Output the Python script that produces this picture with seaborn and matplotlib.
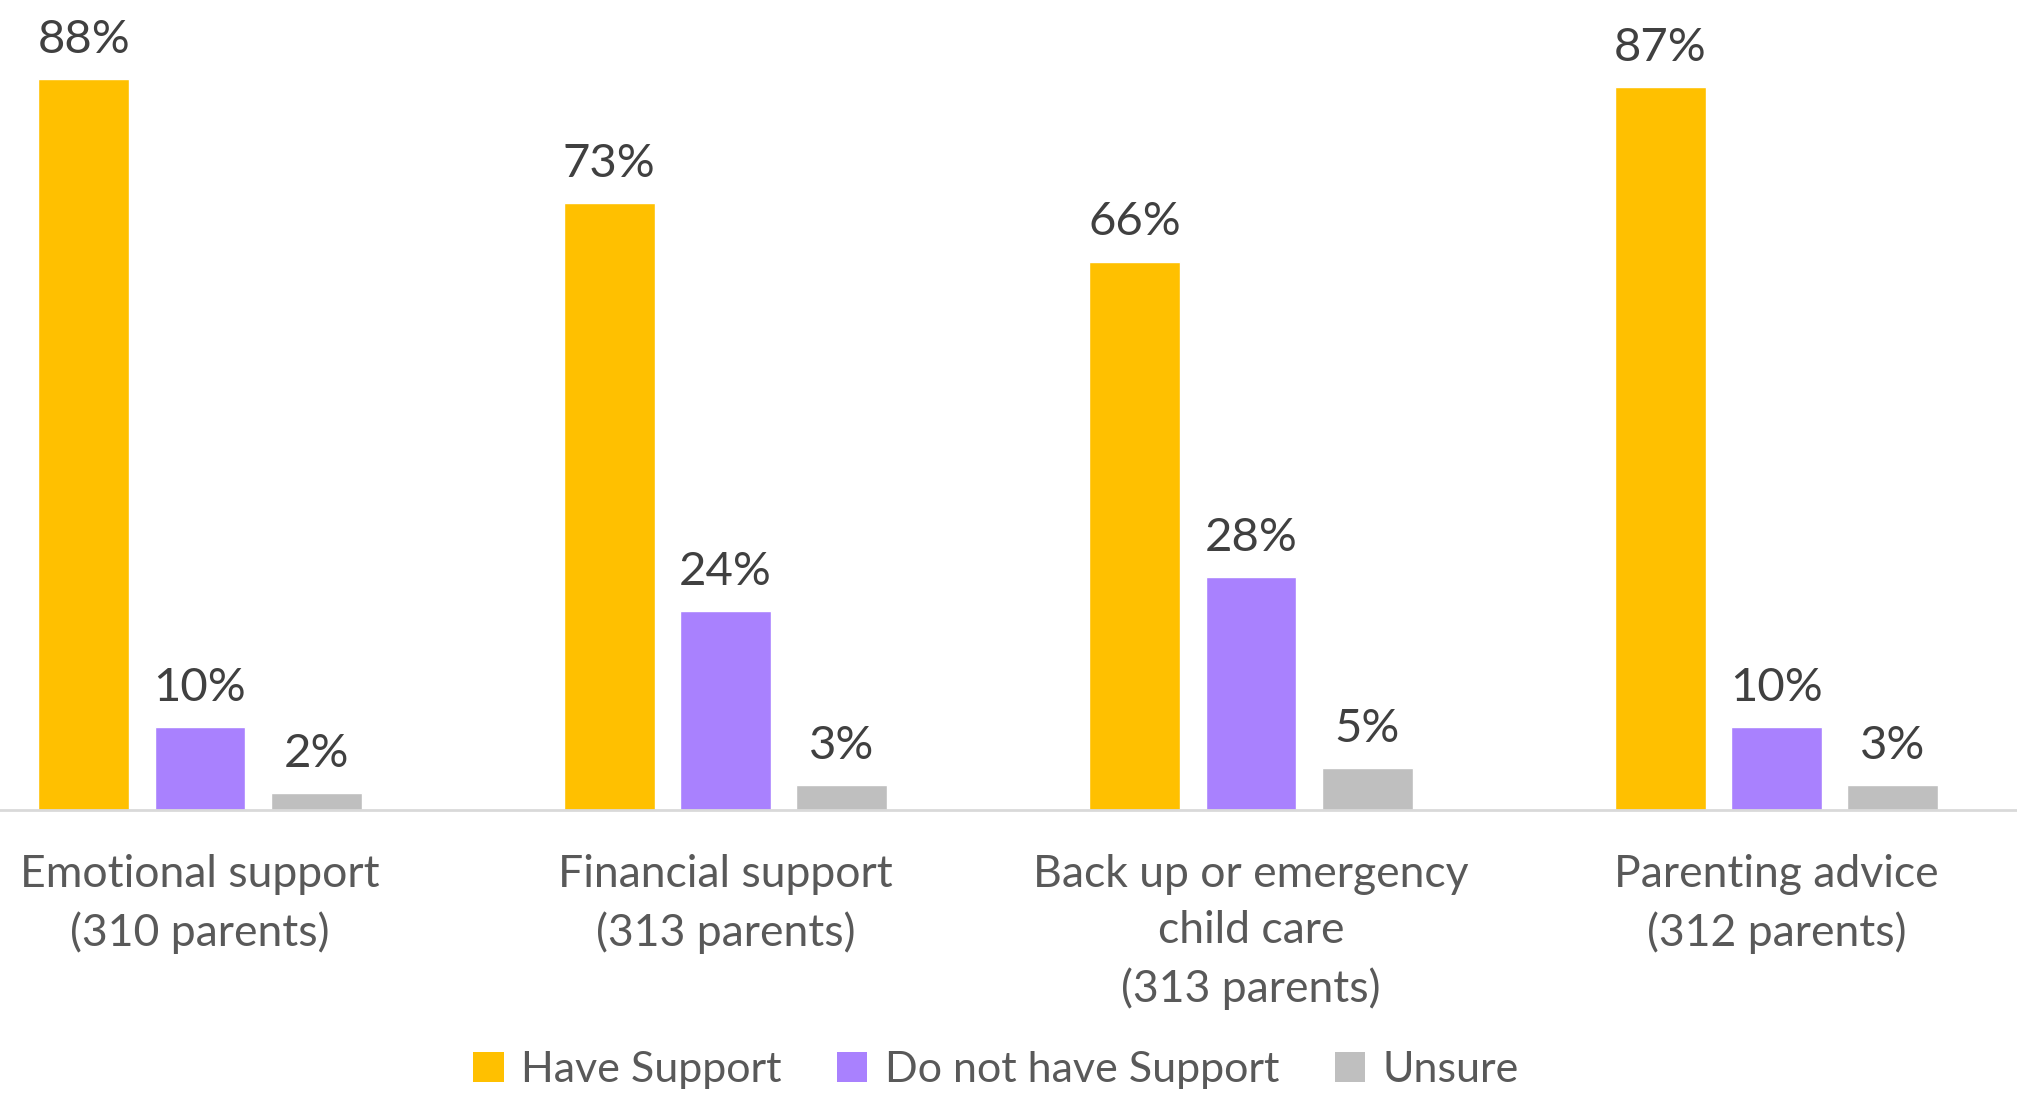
import matplotlib
matplotlib.use("Agg")
import matplotlib.pyplot as plt
import seaborn as sns
import pandas as pd

categories = ["Emotional support\n(310 parents)",
              "Financial support\n(313 parents)",
              "Back up or emergency\nchild care\n(313 parents)",
              "Parenting advice\n(312 parents)"]
series = ["Have Support", "Do not have Support", "Unsure"]
have_support = [88, 73, 66, 87]
no_support = [10, 24, 28, 10]
unsure = [2, 3, 5, 3]
colors = ["#FFC000", "#A981FE", "#BFBFBF"]

rows = []
for s, vals in zip(series, [have_support, no_support, unsure]):
    for c, v in zip(categories, vals):
        rows.append({"category": c, "series": s, "value": v})
df = pd.DataFrame(rows)

sns.set_theme(style="white")
plt.rcParams['font.family'] = ['Lato', 'DejaVu Sans']

W, H = 2017, 1094
fig = plt.figure(figsize=(W / 100, H / 100), dpi=100)
pitch = 525.5
left_px = 200 - pitch / 2
base_px = 810
ax = fig.add_axes([left_px / W, (H - base_px) / H, 4 * pitch / W, base_px / H])

sns.barplot(data=df, x="category", y="value", hue="series", order=categories,
            hue_order=series, palette=colors, width=0.663, gap=0.217,
            saturation=1, ax=ax, legend=False)

ax.set_xlim(-0.5, 3.5)
ax.set_ylim(0, base_px / 8.31)
for cont in ax.containers:
    ax.bar_label(cont, labels=[f"{int(round(v.get_height()))}%" for v in cont],
                 padding=13, fontsize=34, color="#404040")

ax.set_xlabel("")
ax.set_ylabel("")
ax.set_yticks([])
ax.tick_params(axis="x", length=0, pad=32, labelsize=32, labelcolor="#595959")
for lbl in ax.get_xticklabels():
    lbl.set_linespacing(1.45)
for sp in ["top", "right", "left"]:
    ax.spines[sp].set_visible(False)
ax.spines["bottom"].set_color("#D9D9D9")
ax.spines["bottom"].set_linewidth(2)

from matplotlib.patches import Patch
handles = [Patch(facecolor=c, edgecolor="none") for c in colors]
leg = fig.legend(handles, series, loc="center", bbox_to_anchor=(996 / W, 1 - 1070 / H),
                 ncol=3, frameon=False, fontsize=31, handlelength=0.7, handleheight=0.7,
                 handletextpad=0.4, columnspacing=1.3, labelcolor="#595959")

fig.savefig("out.png", dpi=100)
